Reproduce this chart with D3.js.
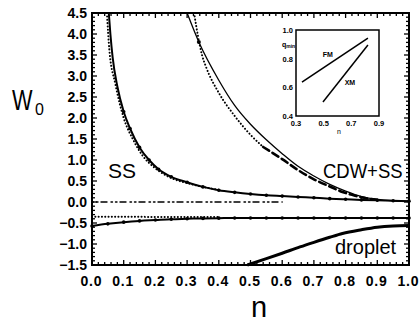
<!DOCTYPE html>
<html>
<head>
<meta charset="utf-8">
<script src="https://cdn.jsdelivr.net/npm/d3@7"></script>
<style>
  body { margin: 0; background: #fff; }
  svg { display: block; font-family: "Liberation Sans", Arial, sans-serif; }
</style>
</head>
<body>
<svg id="chart" width="419" height="322"></svg>
<script>
// data: [n, W0]
const ssSolid = [[0.053,4.5],[0.058,4.0],[0.065,3.45],[0.08,2.75],[0.1,2.15],[0.12,1.75],[0.15,1.3],[0.18,1.0],[0.21,0.78],[0.25,0.6],[0.3,0.47],[0.35,0.36],[0.4,0.28],[0.45,0.23],[0.5,0.19],[0.55,0.16],[0.6,0.14],[0.65,0.12],[0.7,0.1],[0.75,0.08],[0.8,0.065],[0.85,0.05],[0.9,0.04],[0.95,0.03],[1.0,0.02]];
const ssDotted = [[0.047,4.5],[0.055,3.6],[0.073,2.83],[0.1,2.0],[0.13,1.48],[0.16,1.1],[0.2,0.8],[0.25,0.57],[0.3,0.45],[0.35,0.36],[0.4,0.29]];
const cdwSolid = [[0.30,4.5],[0.337,3.81],[0.4,2.9],[0.45,2.3],[0.5,1.85],[0.55,1.48],[0.6,1.15],[0.65,0.85],[0.7,0.62],[0.75,0.42],[0.8,0.26],[0.85,0.13],[0.9,0.06],[0.95,0.03],[1.0,0.02]];
const cdwDotted = [[0.322,4.5],[0.347,3.5],[0.36,3.21],[0.4,2.6],[0.45,2.05],[0.5,1.6],[0.54,1.31]];
const cdwDashed = [[0.54,1.31],[0.6,1.02],[0.65,0.76],[0.7,0.54],[0.75,0.37],[0.79,0.24],[0.83,0.15],[0.87,0.08],[0.9,0.05]];
const zeroLine = [[0.0,0.0],[0.6,0.0]];
const lowDotted = [[0.0,-0.35],[0.4,-0.36]];
const lowSolid = [[0.0,-0.57],[0.05,-0.52],[0.1,-0.48],[0.15,-0.45],[0.2,-0.43],[0.25,-0.41],[0.3,-0.40],[0.35,-0.39],[0.4,-0.385],[0.45,-0.38],[0.5,-0.38],[0.55,-0.38],[0.6,-0.38],[0.65,-0.38],[0.7,-0.38],[0.75,-0.38],[0.8,-0.38],[0.85,-0.38],[0.9,-0.38],[0.95,-0.38],[1.0,-0.38]];
const droplet = [[0.49,-1.5],[0.55,-1.35],[0.6,-1.22],[0.656,-1.07],[0.7,-0.96],[0.75,-0.84],[0.79,-0.75],[0.85,-0.66],[0.9,-0.6],[0.95,-0.57],[1.0,-0.56]];

const xTicks = [0.0,0.1,0.2,0.3,0.4,0.5,0.6,0.7,0.8,0.9,1.0];
const yTicks = [4.5,4.0,3.5,3.0,2.5,2.0,1.5,1.0,0.5,0.0,-0.5,-1.0,-1.5];

// inset: q_min vs n
const insetFM = [[0.343,0.637],[0.82,0.944]];
const insetXM = [[0.495,0.498],[0.82,0.895]];
const insetXTicks = [0.3,0.5,0.7,0.9];
const insetYTicks = [1.0,0.8,0.6,0.4];

const svg = d3.select("#chart");
const x = d3.scaleLinear().domain([0, 1]).range([92, 409]);
const y = d3.scaleLinear().domain([-1.5, 4.5]).range([265, 13]);

const line = d3.line().x(d => x(d[0])).y(d => y(d[1])).curve(d3.curveMonotoneX);

function drawLine(data, w, dash, curve) {
    svg.append("path")
        .attr("d", line.curve(curve || d3.curveMonotoneX)(data))
        .attr("fill", "none")
        .attr("stroke", "#000")
        .attr("stroke-width", w)
        .attr("stroke-dasharray", dash || null)
        .attr("stroke-linecap", dash ? "round" : "butt");
}

function drawDots(data, r) {
    svg.append("g").selectAll("circle")
        .data(data.filter(d => d[1] < 4.3))
        .join("circle")
        .attr("cx", d => x(d[0]))
        .attr("cy", d => y(d[1]))
        .attr("r", r);
}

// curves
drawLine(ssDotted, 2, "0.1,3.2");
drawLine(ssSolid, 2);
drawDots(ssSolid.filter((d, i) => i > 3), 1.8);
drawLine(cdwDotted, 2, "0.1,3.2");
drawLine(cdwDashed, 2.6, "7,4");
drawLine(cdwSolid, 1.3);
drawDots([cdwSolid[1]], 2);
drawLine(zeroLine, 1.4, "1.5,3,1.5,3,6,4", d3.curveLinear);
drawLine(lowDotted, 2, "0.1,3.2", d3.curveLinear);
drawLine(lowSolid, 2);
drawDots(lowSolid, 1.8);
drawLine(droplet, 3);

// frame and ticks on all four sides
const [x0, x1] = x.range();
const [y0, y1] = [y(-1.5), y(4.5)];
svg.append("rect")
    .attr("x", x0).attr("y", y1)
    .attr("width", x1 - x0).attr("height", y0 - y1)
    .attr("fill", "none").attr("stroke", "#000").attr("stroke-width", 2);

const xMinor = d3.range(0, 1.0001, 0.02);
const yMinor = d3.range(-1.5, 4.5001, 0.1);
const tk = svg.append("g").attr("stroke", "#000").attr("stroke-width", 1.3);
xMinor.forEach((v, i) => {
    const len = i % 5 === 0 ? 5 : 3;
    tk.append("line").attr("x1", x(v)).attr("x2", x(v)).attr("y1", y0).attr("y2", y0 - len);
    tk.append("line").attr("x1", x(v)).attr("x2", x(v)).attr("y1", y1).attr("y2", y1 + len);
});
yMinor.forEach((v, i) => {
    const len = i % 5 === 0 ? 5 : 3;
    tk.append("line").attr("x1", x0).attr("x2", x0 + len).attr("y1", y(v)).attr("y2", y(v));
    tk.append("line").attr("x1", x1).attr("x2", x1 - len).attr("y1", y(v)).attr("y2", y(v));
});

// tick labels
svg.append("g").selectAll("text")
    .data(xTicks)
    .join("text")
    .attr("x", d => x(d) - 1)
    .attr("y", 286)
    .attr("text-anchor", "middle")
    .attr("font-size", 14).attr("font-weight", "bold")
    .attr("textLength", 21).attr("lengthAdjust", "spacing")
    .text(d => d.toFixed(1));

svg.append("g").selectAll("text")
    .data(yTicks)
    .join("text")
    .attr("x", 87)
    .attr("y", d => y(d) + 5)
    .attr("text-anchor", "end")
    .attr("font-size", 14).attr("font-weight", "bold")
    .text(d => (d < 0 ? "\u2212" : "") + Math.abs(d).toFixed(1));

// axis titles
svg.append("text").attr("transform", "translate(12,110) scale(0.75,1)")
    .attr("font-size", 29).text("W");
svg.append("text").attr("x", 35).attr("y", 115).attr("font-size", 16).text("0");
svg.append("text").attr("x", 251).attr("y", 317).attr("font-size", 29).text("n");

// region labels
svg.append("text").attr("x", 108).attr("y", 178).attr("font-size", 21).text("SS");
svg.append("text").attr("transform", "translate(323,178) scale(0.88,1)")
    .attr("font-size", 21).text("CDW+SS");
svg.append("text").attr("x", 335).attr("y", 254).attr("font-size", 20).text("droplet");

// inset
const ix = d3.scaleLinear().domain([0.3, 0.9]).range([296, 379]);
const iy = d3.scaleLinear().domain([0.4, 1.0]).range([116, 30]);
const iline = d3.line().x(d => ix(d[0])).y(d => iy(d[1]));
const inset = svg.append("g");
inset.append("rect")
    .attr("x", 296).attr("y", 30).attr("width", 83).attr("height", 86)
    .attr("fill", "#fff").attr("stroke", "#000").attr("stroke-width", 1.5);
[insetFM, insetXM].forEach(d => inset.append("path").attr("d", iline(d))
    .attr("fill", "none").attr("stroke", "#000").attr("stroke-width", 1.5));
inset.selectAll(".ixt").data(insetXTicks).join("text")
    .attr("x", d => ix(d)).attr("y", 126)
    .attr("text-anchor", "middle").attr("font-size", 7.5).attr("font-weight", "bold")
    .text(d => d.toFixed(1));
inset.selectAll(".iyt").data(insetYTicks).join("text")
    .attr("x", 293).attr("y", d => iy(d) + 3)
    .attr("text-anchor", "end").attr("font-size", 7.5).attr("font-weight", "bold")
    .text(d => d.toFixed(1));
const qt = inset.append("text").attr("x", 282).attr("y", 47).attr("font-size", 7).attr("font-weight", "bold");
qt.append("tspan").text("q");
qt.append("tspan").attr("font-size", 5).attr("dy", 1).text("min");
inset.append("text").attr("x", 337).attr("y", 134).attr("font-size", 7).text("n");
inset.append("text").attr("x", ix(0.53)).attr("y", iy(0.83) + 3).attr("text-anchor", "middle")
    .attr("font-size", 7).attr("font-weight", "bold").text("FM");
inset.append("text").attr("x", ix(0.69)).attr("y", iy(0.64) + 3).attr("text-anchor", "middle")
    .attr("font-size", 7).attr("font-weight", "bold").text("XM");
</script>
</body>
</html>
